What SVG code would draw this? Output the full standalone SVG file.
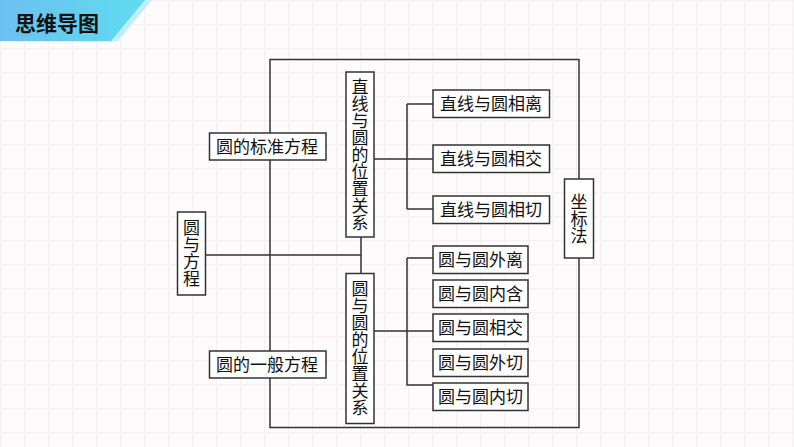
<svg xmlns="http://www.w3.org/2000/svg" width="794" height="447" viewBox="0 0 794 447">
<defs>
<pattern id="grid" width="24" height="24" patternUnits="userSpaceOnUse">
<path d="M0 0.5H24M0.5 0V24" stroke="#f6f0f1" stroke-width="1.5" fill="none"/>
</pattern>
<linearGradient id="ban" x1="0" y1="0" x2="1" y2="0">
<stop offset="0" stop-color="#6cc0f0"/>
<stop offset="1" stop-color="#5fdcef"/>
</linearGradient>
<style>
.box{fill:#ffffff;stroke:#333;stroke-width:1.5}
.ln{stroke:#333;stroke-width:1.5;fill:none}
.t{font-family:"Noto Sans CJK SC","Noto Sans",sans-serif;font-size:17px;fill:#111}
.tv{font-family:"Noto Sans CJK SC","Noto Sans",sans-serif;font-size:17px;fill:#111;text-anchor:middle;writing-mode:vertical-rl}
</style>
</defs>
<rect width="794" height="447" fill="#fdfbfb"/>
<rect width="794" height="447" fill="url(#grid)"/>
<g id="banner">
<polygon points="0,0 152,0 118,41 0,41" fill="#bfeef7"/>
<polygon points="0,0 145,0 111,41 0,41" fill="url(#ban)"/>
<text x="15" y="31" font-family="'Noto Sans CJK SC',sans-serif" font-size="21" font-weight="bold" fill="#111">思维导图</text>
</g>
<g id="connectors">
<rect class="ln" x="270" y="59.5" width="309" height="368"/>
<path class="ln" d="M205 255H361M361 237V273"/>
<path class="ln" d="M374 159H433M407 104V209M407 104H433M407 209H433"/>
<path class="ln" d="M374 331H433M407 258H433M407 258V385H433"/>
</g>
<g id="n-main">
<rect class="box" x="177.5" y="212" width="28" height="83"/>
<text class="tv" x="191.5" y="253.5">圆与方程</text>
</g>
<g id="n-std">
<rect class="box" x="209.5" y="133" width="116.5" height="27"/>
<text class="t" x="216" y="152.5">圆的标准方程</text>
</g>
<g id="n-gen">
<rect class="box" x="209.5" y="351" width="116.5" height="27"/>
<text class="t" x="216" y="370.5">圆的一般方程</text>
</g>
<g id="n-line">
<rect class="box" x="346" y="72" width="28" height="165"/>
<text class="tv" x="360" y="154.5">直线与圆的位置关系</text>
</g>
<g id="n-circ">
<rect class="box" x="346" y="273.5" width="28" height="150"/>
<text class="tv" x="360" y="348.5">圆与圆的位置关系</text>
</g>
<g id="n-coord">
<rect class="box" x="564.5" y="179" width="29" height="79"/>
<text class="tv" x="579" y="218.5">坐标法</text>
</g>
<g id="n-l1">
<rect class="box" x="433" y="90" width="116.5" height="27.5"/>
<text class="t" x="440" y="110">直线与圆相离</text>
</g>
<g id="n-l2">
<rect class="box" x="433" y="145" width="116.5" height="27.5"/>
<text class="t" x="440" y="165">直线与圆相交</text>
</g>
<g id="n-l3">
<rect class="box" x="433" y="196" width="116.5" height="27.5"/>
<text class="t" x="440" y="216">直线与圆相切</text>
</g>
<g id="n-c1">
<rect class="box" x="433" y="246" width="95" height="27.5"/>
<text class="t" x="438" y="266">圆与圆外离</text>
</g>
<g id="n-c2">
<rect class="box" x="433" y="280" width="95" height="27.5"/>
<text class="t" x="438" y="300">圆与圆内含</text>
</g>
<g id="n-c3">
<rect class="box" x="433" y="314" width="95" height="27.5"/>
<text class="t" x="438" y="334">圆与圆相交</text>
</g>
<g id="n-c4">
<rect class="box" x="433" y="349" width="95" height="27.5"/>
<text class="t" x="438" y="369">圆与圆外切</text>
</g>
<g id="n-c5">
<rect class="box" x="433" y="383" width="95" height="27.5"/>
<text class="t" x="438" y="403">圆与圆内切</text>
</g>
</svg>
